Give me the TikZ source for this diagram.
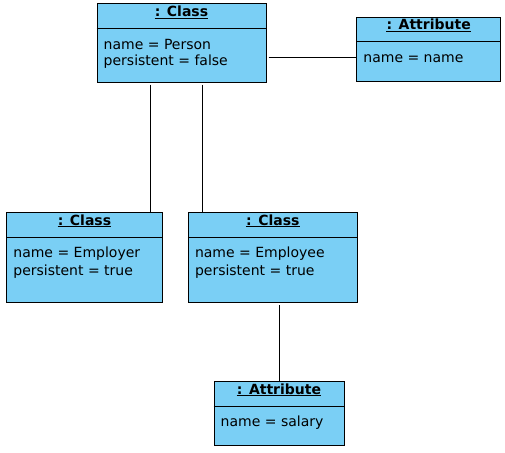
\documentclass[tikz,border=0pt]{standalone}
\usepackage{fontspec}
\setmainfont{DejaVu Sans}
\usepackage{tikz}
\definecolor{objblue}{HTML}{7ACFF5}
\tikzset{
	obj/.style={draw=black, line width=1pt, fill=objblue, inner sep=0pt},
	objtitle/.style={anchor=base, inner sep=0pt, font=\fontsize{14pt}{16pt}\selectfont\bfseries},
	objbody/.style={anchor=base west, inner sep=0pt, font=\fontsize{14pt}{16pt}\selectfont}
}
\newcommand\objbox[6]{%
	\node[obj, minimum width=#4, minimum height=#5] (#1) at (#2,#3) {};
	\node[objtitle] (#1-title) at ([yshift=-13pt]#1.north) {#6};
	\draw[line width=1pt] ([yshift=-1.8pt]#1-title.base west) -- ([yshift=-1.8pt]#1-title.base east);
	\draw[line width=1pt] ([yshift=-25pt]#1.north west) -- ([yshift=-25pt]#1.north east);
}

\begin{document}
\begin{tikzpicture}[x=1pt, y=-1pt]
				\useasboundingbox (0,0) rectangle (505,452);
				
				\objbox{person}{181.5}{43}{169pt}{78pt}{: Class}
				\node[objbody] (person-name) at ([xshift=7pt,yshift=-45.5pt]person.north west) {name = Person};
				\node[objbody] (person-pers) at ([yshift=-16.8pt]person-name.base west) {persistent = false};
				
				\objbox{attrname}{428.7}{49.5}{144pt}{64pt}{: Attribute}
				\node[objbody] (attrname-name) at ([xshift=7pt,yshift=-45pt]attrname.north west) {name = name};
				
				\objbox{employer}{84.5}{257.5}{155.6pt}{90pt}{: Class}
				\node[objbody] (employer-name) at ([xshift=7pt,yshift=-45pt]employer.north west) {name = Employer};
				\node[objbody] (employer-pers) at ([yshift=-18pt]employer-name.base west) {persistent = true};
				
				\objbox{employee}{272.8}{257.5}{169pt}{90pt}{: Class}
				\node[objbody] (employee-name) at ([xshift=7pt,yshift=-45pt]employee.north west) {name = Employee};
				\node[objbody] (employee-pers) at ([yshift=-18pt]employee-name.base west) {persistent = true};
				
				\objbox{salary}{279}{413.5}{130pt}{64pt}{: Attribute}
				\node[objbody] (salary-name) at ([xshift=7pt,yshift=-45pt]salary.north west) {name = salary};
				
				% links
				\draw[line width=1pt] ([xshift=2pt,yshift=-14pt]person.east) -- ([yshift=-14pt]person.east -| attrname.west);
				\draw[line width=1pt] ([xshift=-31pt,yshift=-2pt]person.south) -- ([xshift=-31pt]person.south |- employer.north);
				\draw[line width=1pt] ([xshift=21pt,yshift=-2pt]person.south) -- ([xshift=21pt]person.south |- employee.north);
				\draw[line width=1pt] ([xshift=7pt,yshift=-2pt]employee.south) -- ([xshift=7pt]employee.south |- salary.north);
			\end{tikzpicture}
\end{document}
